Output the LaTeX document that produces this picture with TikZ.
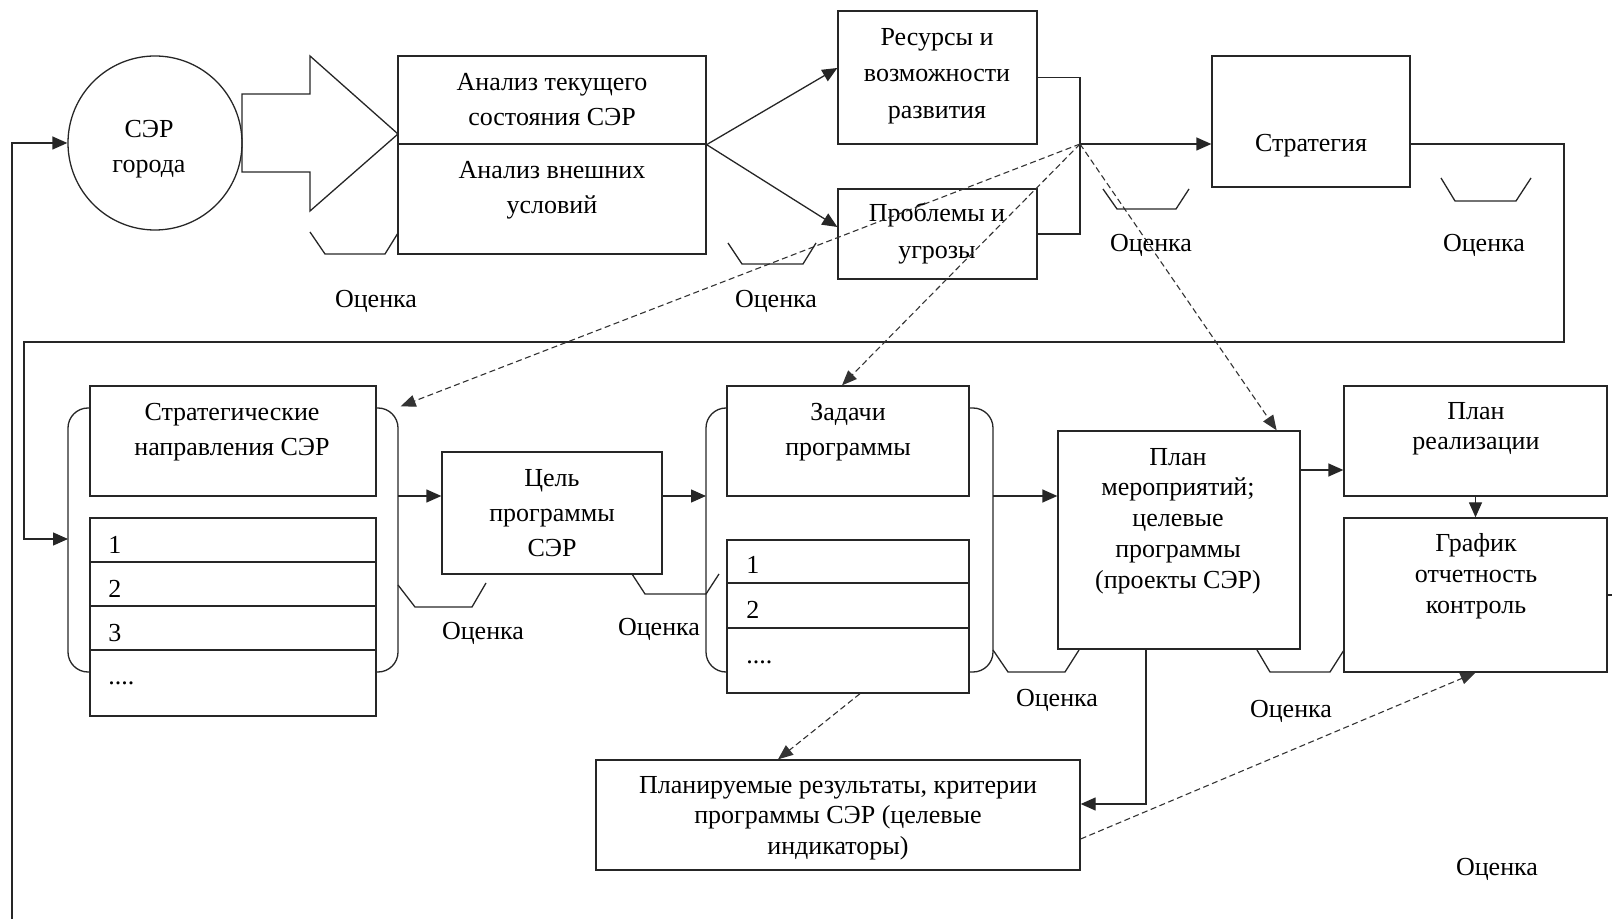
\documentclass[tikz,border=0pt]{standalone}
\usepackage{fontspec}
\setmainfont{Liberation Serif}
\usetikzlibrary{arrows.meta,fit}
\begin{document}
\begin{tikzpicture}[x=0.5pt,y=-0.5pt,
  every node/.style={font=\fontsize{13}{17.5}\selectfont},
  ln/.style={line width=0.65pt, draw=black!85},
  box/.style={ln, draw, rectangle, inner sep=0pt},
  txt/.style={align=center, inner sep=0pt},
  num/.style={anchor=base west, inner sep=0pt},
  arr/.style={ln, -{Triangle[length=7.5pt,width=6.5pt]}},
  darr/.style={line width=0.55pt, draw=black!80, dash pattern=on 3pt off 1.75pt,
               -{Triangle[length=7.5pt,width=6pt]}},
  bracket/.style={ln, rounded corners=10pt},
  trap/.style={ln, line join=miter}
]
\useasboundingbox (0,0) rectangle (1612,919);

% --- top row -------------------------------------------------------------
\node[ln, draw, circle, minimum size=87pt, inner sep=0pt] (cir) at (155,143) {};
\node[txt] (cirt) at (149,149) {СЭР\\города};

% block arrow from the city to the analysis block
\draw[ln] (242,94) -- (310,94) -- (310,56) -- (398,134) -- (310,211)
          -- (310,172) -- (242,172) -- cycle;

\node[box, fit={(398,56) (706,144)}] (an1) {};
\node[box, fit={(398,144) (706,254)}] (an2) {};
\node[txt] (an1t) at (552,100) {Анализ текущего\\состояния СЭР};
\node[txt] (an2t) at (552,190) {Анализ внешних\\условий};

\node[box, fit={(838,11) (1037,144)}] (res) {};
\node[txt, font=\fontsize{13}{18.25}\selectfont] (rest) at (937,76) {Ресурсы и\\возможности\\развития};
\node[box, fit={(838,189) (1037,279)}] (prob) {};
\node[txt, font=\fontsize{13}{18.5}\selectfont] (probt) at (937,234) {Проблемы и\\угрозы};

\node[box, fit={(1212,56) (1410,187)}] (strat) {};
\node[txt] (stratt) at (1311,146) {Стратегия};

\coordinate (jn) at (1080,144);

% --- middle row ----------------------------------------------------------
\node[box, fit={(90,386) (376,496)}] (sd) {};
\node[txt] (sdt) at (232,432) {Стратегические\\направления СЭР};
\node[box, fit={(90,518) (376,562)}] (sl1) {};
\node[box, fit={(90,562) (376,606)}] (sl2) {};
\node[box, fit={(90,606) (376,650)}] (sl3) {};
\node[box, fit={(90,650) (376,716)}] (sl4) {};
\node[num] (sl1t) at (108,553) {1};
\node[num] (sl2t) at (108,597) {2};
\node[num] (sl3t) at (108,641) {3};
\node[num] (sl4t) at (108,684) {....};

\node[box, fit={(442,452) (662,574)}] (goal) {};
\node[txt] (goalt) at (552,513) {Цель\\программы\\СЭР};

\node[box, fit={(727,386) (969,496)}] (zd) {};
\node[txt] (zdt) at (848,432) {Задачи\\программы};
\node[box, fit={(727,540) (969,583)}] (zl1) {};
\node[box, fit={(727,583) (969,628)}] (zl2) {};
\node[box, fit={(727,628) (969,693)}] (zl3) {};
\node[num] (zl1t) at (746,574) {1};
\node[num] (zl2t) at (746,618) {2};
\node[num] (zl3t) at (746,663) {....};

\node[box, fit={(1058,431) (1300,649)}] (pm) {};
\node[txt, font=\fontsize{13}{15.4}\selectfont] (pmt) at (1178,521)
  {План\\мероприятий;\\целевые\\программы\\(проекты СЭР)};

\node[box, fit={(1344,386) (1607,496)}] (pr) {};
\node[txt, font=\fontsize{13}{15}\selectfont] (prt) at (1476,429) {План\\реализации};
\node[box, fit={(1344,518) (1607,672)}] (gr) {};
\node[txt, font=\fontsize{13}{15.5}\selectfont] (grt) at (1476,576) {График\\отчетность\\контроль};

% --- bottom row ----------------------------------------------------------
\node[box, fit={(596,760) (1080,870)}] (plr) {};
\node[txt, font=\fontsize{13}{15.25}\selectfont] (plrt) at (838,818)
  {Планируемые результаты, критерии\\программы СЭР (целевые\\индикаторы)};

% --- group brackets ------------------------------------------------------
\draw[bracket] (90,408) -- (68,408) -- (68,672) -- (90,672);
\draw[bracket] (376,408) -- (398,408) -- (398,672) -- (376,672);
\draw[bracket] (727,408) -- (706,408) -- (706,672) -- (727,672);
\draw[bracket] (969,408) -- (993,408) -- (993,672) -- (969,672);

% --- solid connectors ----------------------------------------------------
\draw[arr] (an1.south east) -- ([yshift=4.75pt]res.west);
\draw[arr] (an1.south east) -- ([yshift=3.5pt]prob.west);
\draw[ln] (res.east) -| (jn) |- (prob.east);
\draw[arr] (jn) -- (jn -| strat.west);

\coordinate (fbA) at (1564,342);
\coordinate (fbB) at (24,342);
\coordinate (sgL) at (68,539);
\draw[arr] (strat.east |- jn) -| (fbA) -- (fbB) |- (sgL);

\coordinate (fbC) at (12,919);
\draw[arr] (fbC) |- (cir.west);

\coordinate (sgR) at (398,496);
\coordinate (zgL) at (706,496);
\coordinate (zgR) at (993,496);
\draw[arr] (sgR) -- (sgR -| goal.west);
\draw[arr] (goal.east |- sgR) -- (zgL);
\draw[arr] (zgR) -- (zgR -| pm.west);

\coordinate (pmo) at ([yshift=35pt]pm.east);
\draw[arr] (pmo) -- (pmo -| pr.west);
\draw[arr] (pr.south) -- (gr.north);
\coordinate (stub) at (1612,595);
\draw[ln] (gr.east) -- (stub);

\coordinate (pmd) at (1146,804);
\draw[arr] (pmd |- pm.south) -- (pmd) -- (pmd -| plr.east);

% --- dashed links --------------------------------------------------------
\draw[darr] (jn) -- ([xshift=12pt,yshift=-10.5pt]sd.north east);
\draw[darr] (jn) -- ([xshift=-3pt]zd.north);
\draw[darr] (jn) -- ([xshift=-12pt]pm.north east);
\draw[darr] ([xshift=6pt]zl3.south) -- ([xshift=-30pt]plr.north);
\draw[darr] ([yshift=-12pt]plr.east) -- (gr.south);

% --- evaluation marks ----------------------------------------------------
\draw[trap] (310,232) -- (325,254) -- (385,254) -- (398,233);
\draw[trap] (728,243) -- (742,264) -- (803,264) -- (816,243);
\draw[trap] (1103,189) -- (1117,209) -- (1176,209) -- (1189,189);
\draw[trap] (1441,178) -- (1455,201) -- (1516,201) -- (1531,178);
\draw[trap] (398,585) -- (415,607) -- (472,607) -- (486,583);
\draw[trap] (632,574) -- (645,594) -- (706,594) -- (719,574);
\draw[trap] (993,650) -- (1008,672) -- (1065,672) -- (1079,650);
\draw[trap] (1257,650) -- (1270,672) -- (1330,672) -- (1344,650);

\node (o1) at (376,301) {Оценка};
\node (o2) at (776,301) {Оценка};
\node (o3) at (1151,245) {Оценка};
\node (o4) at (1484,245) {Оценка};
\node (o5) at (483,633) {Оценка};
\node (o6) at (659,629) {Оценка};
\node (o7) at (1057,700) {Оценка};
\node (o8) at (1291,711) {Оценка};
\node (o9) at (1497,869) {Оценка};
\end{tikzpicture}
\end{document}
